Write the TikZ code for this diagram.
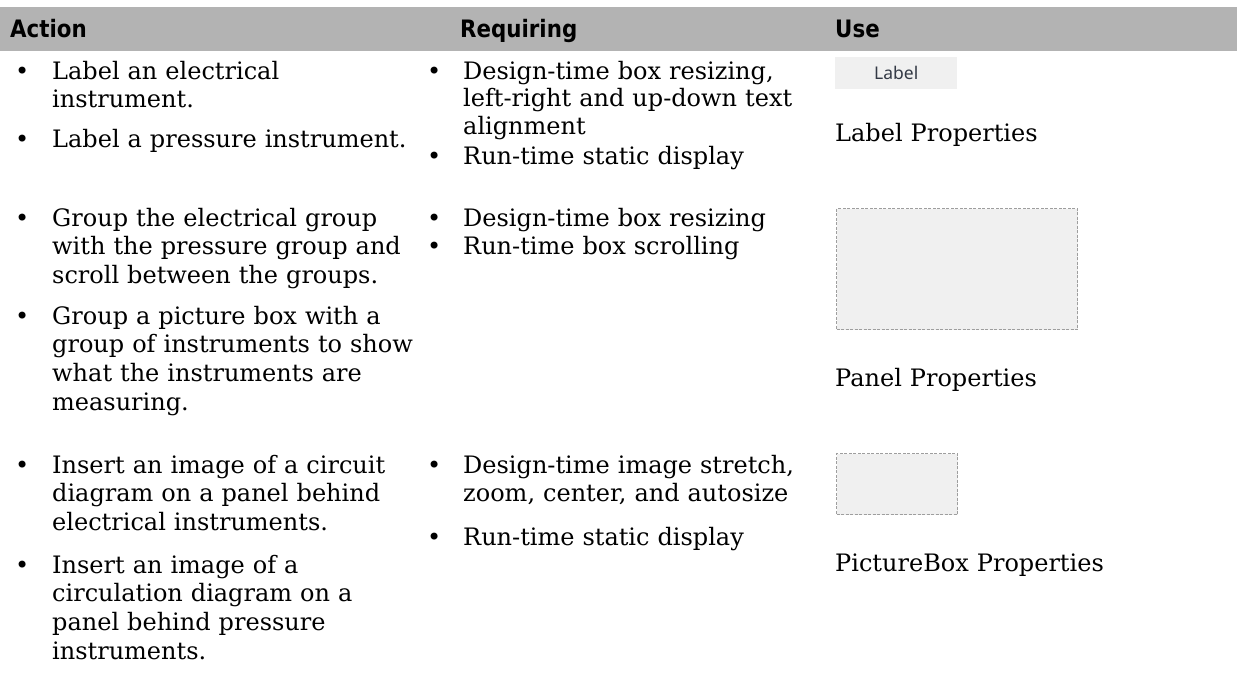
\documentclass[tikz,border=0pt]{standalone}
\usepackage{fontspec}
\setmainfont{DejaVu Serif}
\setsansfont{DejaVu Sans}[FakeStretch=0.89]
\newfontfamily\uifont{Noto Sans}
\definecolor{headgray}{HTML}{B3B3B3}
\definecolor{boxgray}{HTML}{F0F0F0}
\definecolor{dashgray}{HTML}{9E9E9E}
\definecolor{uitext}{HTML}{333945}
\begin{document}
\begin{tikzpicture}[x=1pt, y=-1pt,
  head/.style={anchor=base west, inner sep=0, font=\sffamily\bfseries\fontsize{24}{26}\selectfont},
  item/.style={anchor=base west, inner sep=0, text width=#1, align=left, font=\fontsize{24}{28.7}\selectfont},
  item/.default=380pt,
  dot/.style={anchor=base west, inner sep=0, font=\fontsize{24}{28.7}\selectfont},
  uibox/.style={anchor=north west, fill=boxgray, inner sep=0, text=uitext, font=\uifont\fontsize{17.5}{19}\selectfont},
  placeholder/.style={anchor=north west, fill=boxgray, draw=dashgray, dash pattern=on 3pt off 1.5pt, line width=1.4pt, inner sep=0}]
\useasboundingbox (0,0) rectangle (1237,681);
% header row
\fill [headgray] (0,7) rectangle (1237,51);
\node [head] (hact) at (10,37) {Action};
\node [head] (hreq) at (460,37) {Requiring};
\node [head] (huse) at (835,37) {Use};
% action column
\node [dot] at (15,79) {•};
\node [item] (a1) at (52,79) {Label an electrical\\instrument.};
\node [dot] at (15,147) {•};
\node [item] (a2) at (52,147) {Label a pressure instrument.};
\node [dot] at (15,226) {•};
\node [item] (a3) at (52,226) {Group the electrical group\\with the pressure group and\\scroll between the groups.};
\node [dot] at (15,324) {•};
\node [item] (a4) at (52,324) {Group a picture box with a\\group of instruments to show\\what the instruments are\\measuring.};
\node [dot] at (15,473) {•};
\node [item] (a5) at (52,473) {Insert an image of a circuit\\diagram on a panel behind\\electrical instruments.};
\node [dot] at (15,573) {•};
\node [item] (a6) at (52,573) {Insert an image of a\\circulation diagram on a\\panel behind pressure\\instruments.};
% requiring column
\node [dot] at (427,79) {•};
\node [item, font=\fontsize{24}{27.5}\selectfont] (r1) at (463,79) {Design-time box resizing,\\left-right and up-down text\\alignment};
\node [dot] at (427,164) {•};
\node [item] (r2) at (463,164) {Run-time static display};
\node [dot] at (427,226) {•};
\node [item] (r3) at (463,226) {Design-time box resizing};
\node [dot] at (427,254) {•};
\node [item] (r4) at (463,254) {Run-time box scrolling};
\node [dot] at (427,473) {•};
\node [item] (r5) at (463,473) {Design-time image stretch,\\zoom, center, and autosize};
\node [dot] at (427,545) {•};
\node [item] (r6) at (463,545) {Run-time static display};
% use column
\node [uibox, minimum width=122pt, minimum height=32pt] (labelbox) at (835,57) {Label};
\node [item] (u1) at (835,141) {Label Properties};
\node [placeholder, minimum width=241pt, minimum height=121pt] (panelbox) at (836,208) {};
\node [item] (u2) at (835,386) {Panel Properties};
\node [placeholder, minimum width=121pt, minimum height=61pt] (picbox) at (836,453) {};
\node [item] (u3) at (835,571) {PictureBox Properties};
\end{tikzpicture}
\end{document}
